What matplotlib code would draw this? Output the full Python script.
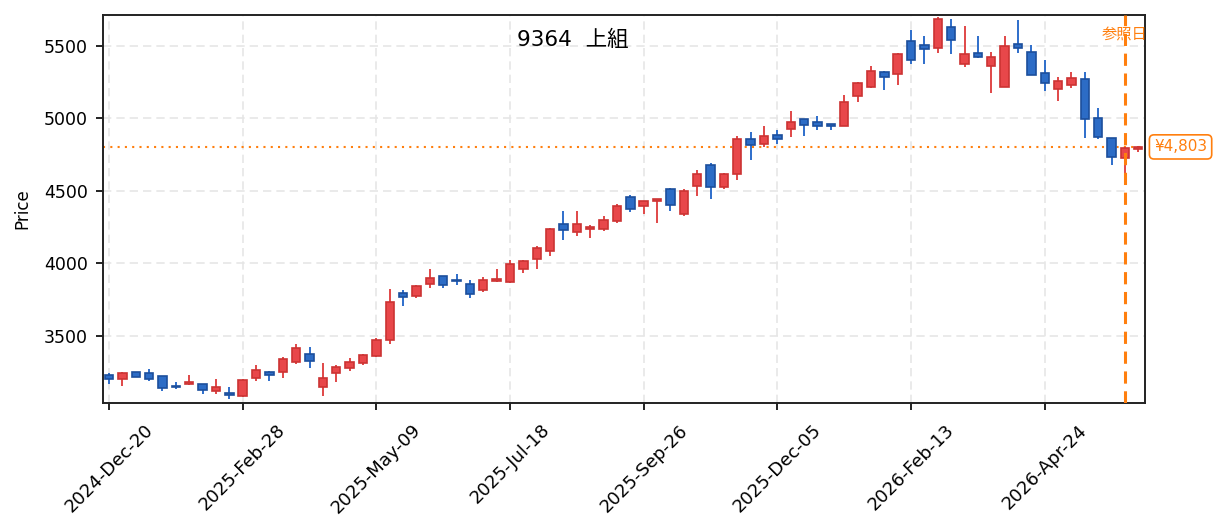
import numpy as np
import pandas as pd
import matplotlib
matplotlib.use("Agg")
import matplotlib.pyplot as plt
import matplotlib.dates as mdates
import matplotlib.transforms as mtransforms

plt.rcParams['font.family'] = ['DejaVu Sans', 'Noto Sans CJK JP']

# weekly candles, Japanese colour convention (red = up, blue = down)
TITLE = "9364  上組"
REF_LABEL = "参照日"
LAST_PRICE = 4803
REF_INDEX = 76

opens = [3226, 3200, 3247, 3244, 3219, 3150, 3164, 3166, 3120, 3104,
         3085, 3205, 3247, 3247, 3316, 3371, 3145, 3242, 3276, 3311,
         3357, 3468, 3792, 3776, 3854, 3910, 3882, 3854, 3815, 3877,
         3870, 3960, 4029, 4084, 4273, 4215, 4234, 4236, 4291, 4459,
         4395, 4430, 4514, 4338, 4533, 4676, 4524, 4616, 4856, 4823,
         4883, 4925, 4994, 4973, 4959, 4948, 5155, 5215, 5323, 5307,
         5537, 5505, 5486, 5629, 5376, 5454, 5362, 5217, 5516, 5461,
         5311, 5203, 5231, 5270, 5001, 4863, 4729, 4790]
highs = [3240, 3247, 3250, 3269, 3222, 3180, 3228, 3168, 3200, 3145,
         3198, 3297, 3253, 3350, 3442, 3421, 3311, 3297, 3345, 3373,
         3484, 3822, 3815, 3849, 3960, 3912, 3925, 3884, 3905, 3960,
         4020, 4022, 4117, 4241, 4360, 4360, 4262, 4326, 4409, 4469,
         4432, 4446, 4517, 4510, 4642, 4692, 4621, 4878, 4906, 4948,
         4920, 5051, 4996, 5017, 4962, 5162, 5250, 5362, 5326, 5454,
         5610, 5569, 5700, 5686, 5640, 5569, 5459, 5569, 5680, 5507,
         5403, 5284, 5320, 5320, 5072, 4865, 4805, 4808]
lows = [3168, 3154, 3212, 3188, 3120, 3129, 3162, 3099, 3099, 3064,
        3078, 3188, 3188, 3209, 3302, 3278, 3085, 3182, 3258, 3299,
        3355, 3444, 3706, 3762, 3831, 3831, 3852, 3762, 3803, 3868,
        3861, 3934, 3958, 4052, 4162, 4190, 4176, 4224, 4275, 4356,
        4342, 4280, 4363, 4328, 4466, 4443, 4515, 4577, 4713, 4805,
        4823, 4874, 4881, 4920, 4922, 4945, 5115, 5213, 5196, 5231,
        5374, 5374, 5454, 5443, 5357, 5415, 5178, 5215, 5454, 5298,
        5191, 5122, 5212, 4867, 4860, 4680, 4604, 4770]
closes = [3200, 3240, 3214, 3198, 3136, 3145, 3178, 3122, 3143, 3090,
          3193, 3260, 3226, 3341, 3416, 3322, 3205, 3281, 3320, 3368,
          3468, 3734, 3767, 3840, 3900, 3849, 3878, 3787, 3882, 3889,
          3997, 4017, 4107, 4238, 4227, 4273, 4248, 4300, 4398, 4374,
          4430, 4443, 4404, 4501, 4618, 4524, 4614, 4860, 4816, 4881,
          4856, 4973, 4954, 4948, 4950, 5115, 5247, 5325, 5288, 5443,
          5403, 5479, 5689, 5541, 5443, 5426, 5426, 5502, 5488, 5300,
          5244, 5260, 5281, 4994, 4874, 4733, 4798, LAST_PRICE]

dates = pd.date_range("2024-12-20", periods=len(opens), freq="7D")

UP_FACE, UP_EDGE = "#e8474a", "#cc3333"
DOWN_FACE, DOWN_EDGE = "#2c6cc6", "#1c4f9c"
ORANGE = "#ff7f0e"

o = np.array(opens)
h = np.array(highs)
l = np.array(lows)
c = np.array(closes)
up = c >= o

fig, ax = plt.subplots(figsize=(12.23, 5.31), dpi=100)
fig.subplots_adjust(left=0.0842, right=0.9362, top=0.9718, bottom=0.2411)

x = mdates.date2num(dates)
wick_colors = np.where(up, "#e04848", "#2e6ecb")
ax.vlines(x, l, h, colors=wick_colors, linewidth=1.4, zorder=2)

body_w = 4.4
bottoms = np.minimum(o, c)
heights = np.maximum(np.abs(c - o), 4)
ax.bar(x[up], heights[up], bottom=bottoms[up], width=body_w,
       color=UP_FACE, edgecolor=UP_EDGE, linewidth=1.2, zorder=3)
ax.bar(x[~up], heights[~up], bottom=bottoms[~up], width=body_w,
       color=DOWN_FACE, edgecolor=DOWN_EDGE, linewidth=1.2, zorder=3)

# reference date and last price
ax.axvline(x[REF_INDEX], color=ORANGE, linestyle=(0, (4, 2.5)), linewidth=2.2, zorder=4)
ax.axhline(LAST_PRICE, color=ORANGE, linestyle=(0, (1, 2.5)), linewidth=1.5, zorder=1)
trans = mtransforms.blended_transform_factory(ax.transData, ax.transAxes)
ax.text(x[REF_INDEX], 0.951, REF_LABEL, transform=trans, color=ORANGE,
        fontsize=11, ha="center", va="center", zorder=5)
trans_r = mtransforms.blended_transform_factory(ax.transAxes, ax.transData)
ax.annotate(f"¥{LAST_PRICE:,}", xy=(1.0, LAST_PRICE), xycoords=trans_r,
            xytext=(6.5, 0), textcoords="offset points", ha="left", va="center",
            color=ORANGE, fontsize=11, annotation_clip=False,
            bbox=dict(boxstyle="round,pad=0.3", fc="white", ec=ORANGE, lw=1.2))

ax.text(0.451, 0.935, TITLE, transform=ax.transAxes, fontsize=15.5,
        ha="center", va="center")

ax.set_xlim(x[0] - 0.45 * 7, x[-1] + 0.5 * 7)
ax.set_ylim(3035, 5714)
ax.set_yticks([3500, 4000, 4500, 5000, 5500])
ax.set_xticks(x[::10])
ax.xaxis.set_major_formatter(mdates.DateFormatter("%Y-%b-%d"))
ax.tick_params(axis="both", length=5, width=1.4, color="#222222")
ax.tick_params(axis="y", labelsize=12.5, pad=6)
ax.tick_params(axis="x", labelsize=13, pad=8)
plt.setp(ax.get_xticklabels(), rotation=45)
ax.set_ylabel("Price", fontsize=12, labelpad=9)

ax.grid(True, color="#e6e6e6", linestyle=(0, (5, 3)), linewidth=1.2, zorder=0)
ax.set_axisbelow(True)
for sp in ax.spines.values():
    sp.set_linewidth(1.4)
    sp.set_color("#222222")

fig.savefig("out.png", dpi=100)
